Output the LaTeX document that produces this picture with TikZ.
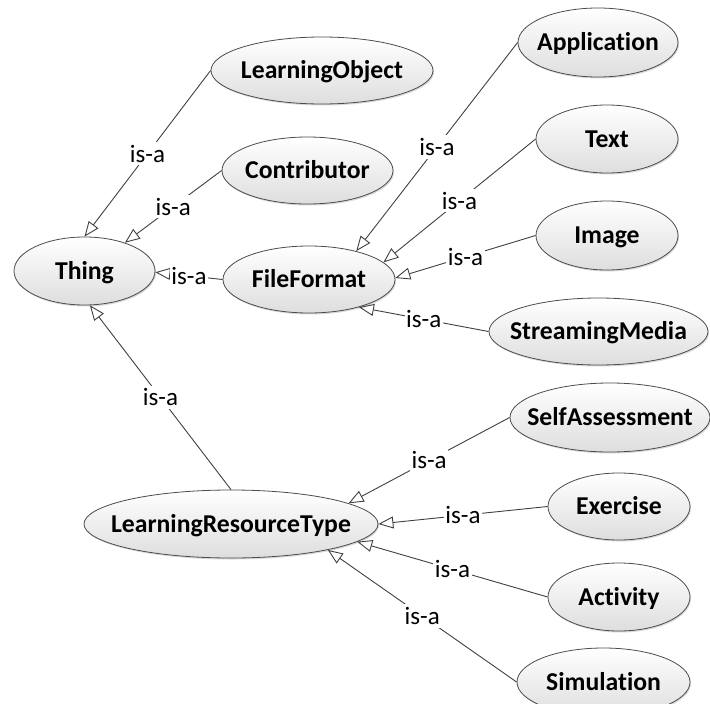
\documentclass[tikz,border=0pt]{standalone}
\usepackage{fontspec}
\setmainfont{Carlito}[Ligatures=NoCommon]
\usetikzlibrary{shapes.geometric,arrows.meta,shadows}
\begin{document}
\begin{tikzpicture}[x=1pt,y=-1pt,
  cls/.style={ellipse, draw=black!70, line width=0.8pt,
    top color=white, bottom color=black!13, inner sep=0pt,
    text height=16.5pt, text depth=0pt,
    font=\fontsize{25.7}{30}\selectfont\bfseries,
    drop shadow={shadow xshift=1pt, shadow yshift=-1.5pt, opacity=0.25, fill=black!60}},
  isa/.style={draw=black!75, line width=0.9pt,
    -{Triangle[open, length=15pt, width=12pt]}},
  lbl/.style={fill=white, inner xsep=1.5pt, inner ysep=3pt, pos=0.5,
    font=\fontsize{25}{30}\selectfont}
]
\useasboundingbox (0,0) rectangle (710,704);

% classes
\node[cls, minimum width=141pt, minimum height=68pt] (thing)   at (84.5,271)   {\makebox[0pt]{Thing}};
\node[cls, minimum width=222pt, minimum height=67pt] (lo)      at (322,70.5)   {\makebox[0pt]{LearningObject}};
\node[cls, minimum width=171pt, minimum height=67pt] (contrib) at (307.5,170.5) {\makebox[0pt]{Contributor}};
\node[cls, minimum width=172pt, minimum height=67pt] (ff)      at (309,279.5)  {\makebox[0pt]{FileFormat}};
\node[cls, minimum width=294pt, minimum height=68pt] (lrt)     at (231,524)    {\makebox[0pt]{LearningResourceType}};

\node[cls, minimum width=160pt, minimum height=69pt] (app)   at (598,42.5)   {\makebox[0pt]{Application}};
\node[cls, minimum width=142pt, minimum height=68pt] (txt)   at (607,139)    {\makebox[0pt]{Text}};
\node[cls, minimum width=142pt, minimum height=69pt] (img)   at (607,235.5)  {\makebox[0pt]{Image}};
\node[cls, minimum width=219pt, minimum height=67pt] (sm)    at (598.5,331.5) {\makebox[0pt]{StreamingMedia}};

\node[cls, minimum width=200pt, minimum height=69pt] (sa)    at (610,417.5)  {\makebox[0pt]{SelfAssessment}};
\node[cls, minimum width=142pt, minimum height=67pt] (ex)    at (619,506.5)  {\makebox[0pt]{Exercise}};
\node[cls, minimum width=142pt, minimum height=68pt] (act)   at (619,597)    {\makebox[0pt]{Activity}};
\node[cls, minimum width=173pt, minimum height=68pt] (sim)   at (603.5,682)  {\makebox[0pt]{Simulation}};

% subclass relations
\draw[isa] (lo.west)      -- node[lbl] {is-a} (thing.90);
\draw[isa] (contrib.west) -- node[lbl] {is-a} (thing.35);
\draw[isa] (ff.west)      -- node[lbl] {is-a} (thing.-1);
\draw[isa] (lrt.north)    -- node[lbl] {is-a} (thing.-81);

\draw[isa] (app.west) -- node[lbl] {is-a} (ff.31);
\draw[isa] (txt.west) -- node[lbl] {is-a} (ff.13);
\draw[isa] (img.west) -- node[lbl] {is-a} (ff.1);
\draw[isa] (sm.west)  -- node[lbl] {is-a} (ff.-29);

\draw[isa] (sa.west)  -- node[lbl] {is-a} (lrt.10);
\draw[isa] (ex.west)  -- node[lbl] {is-a} (lrt.0);
\draw[isa] (act.west) -- node[lbl] {is-a} (lrt.-8);
\draw[isa] (sim.west) -- node[lbl] {is-a} (lrt.-15);
\end{tikzpicture}
\end{document}
